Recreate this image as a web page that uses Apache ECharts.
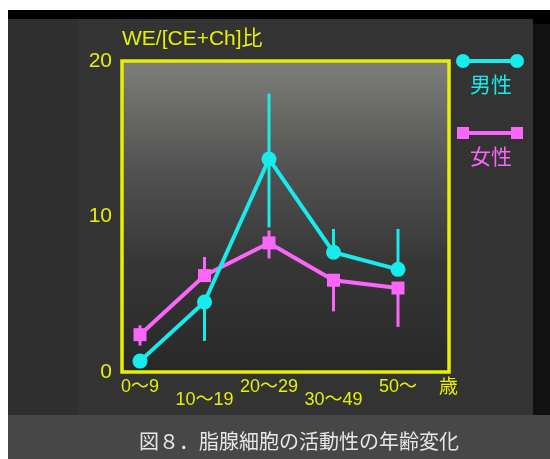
<!doctype html>
<html>
<head>
<meta charset="UTF-8">
<title>図8 脂腺細胞の活動性の年齢変化</title>
<script src="https://cdn.jsdelivr.net/npm/echarts@6/dist/echarts.min.js"></script>
<style>
  html, body { margin: 0; padding: 0; background: #fff; }
  .bg { position: absolute; }
  #main { position: absolute; left: 0; top: 0; width: 550px; height: 459px; }
</style>
</head>
<body>
<!-- 背景のパネル -->
<div class="bg" style="left:8px;top:10px;width:542px;height:449px;background:#333;"></div>
<div class="bg" style="left:8px;top:10px;width:525px;height:9px;background:#000;"></div>
<div class="bg" style="left:533px;top:10px;width:17px;height:405px;background:#111;"></div>
<div class="bg" style="left:533px;top:10px;width:17px;height:14px;background:#000;"></div>
<div class="bg" style="left:8px;top:19px;width:70px;height:396px;background:#2f2f2f;"></div>
<div class="bg" style="left:8px;top:415px;width:542px;height:44px;background:#474747;"></div>
<div id="main"></div>
<script type="text/javascript">
// 年齢区分
var ageGroups = ['0〜9', '10〜19', '20〜29', '30〜49', '50〜'];
// WE/[CE+Ch]比
var maleValues = [0.7, 4.5, 13.7, 7.7, 6.6];
var maleErrUp = [0, 0, 4.2, 1.5, 2.6];
var maleErrDown = [0, 2.5, 4.4, 0, 0];
var femaleValues = [2.4, 6.2, 8.3, 5.9, 5.4];
var femaleErrUp = [0.6, 1.2, 0.8, 0, 0];
var femaleErrDown = [0.7, 0, 1.0, 2.0, 2.5];
var yTicks = [0, 10, 20];

var yellow = '#e6f000';
var cyan = '#17ebeb';
var pink = '#fa66f8';
var font = "'Liberation Sans', 'Noto Sans CJK JP', sans-serif";

function errData(vals, up, down) {
    var out = [];
    for (var i = 0; i < vals.length; i++) {
        out.push([i, vals[i] - down[i], vals[i] + up[i]]);
    }
    return out;
}

function renderErr(params, api) {
    var lo = api.value(1), hi = api.value(2);
    if (lo === hi) return;
    var p1 = api.coord([api.value(0), lo]);
    var p2 = api.coord([api.value(0), hi]);
    return {
        type: 'line',
        shape: { x1: p1[0], y1: p1[1], x2: p2[0], y2: p2[1] },
        style: { stroke: api.visual('color'), lineWidth: 3 }
    };
}

var myChart = echarts.init(document.getElementById('main'), null, { renderer: 'canvas' });

var option = {
    backgroundColor: 'transparent',
    animation: false,
    title: {
        text: '図８．脂腺細胞の活動性の年齢変化',
        left: 134,
        top: 426,
        textStyle: { color: '#e6e6e6', fontSize: 20, fontWeight: 'normal', fontFamily: "'Noto Sans CJK JP', sans-serif" }
    },
    grid: [
        {   // 枠
            left: 122, top: 61, width: 327, height: 311,
            show: true,
            borderColor: yellow,
            borderWidth: 3.5,
            backgroundColor: {
                type: 'linear', x: 0, y: 0, x2: 0, y2: 1,
                colorStops: [
                    { offset: 0, color: '#7e7e7a' },
                    { offset: 0.35, color: '#525252' },
                    { offset: 0.65, color: '#363636' },
                    { offset: 1, color: '#282828' }
                ]
            }
        },
        {   // データ
            left: 140, top: 61, width: 258, height: 311
        }
    ],
    xAxis: [
        { gridIndex: 0, type: 'value', show: false },
        {
            gridIndex: 1,
            type: 'category',
            data: ageGroups,
            boundaryGap: false,
            axisLine: { show: false },
            axisTick: { show: false },
            splitLine: { show: false },
            axisLabel: {
                interval: 0,
                margin: 6,
                color: yellow,
                fontSize: 18,
                fontFamily: font,
                formatter: function (v, i) {
                    return i % 2 === 1 ? '{low|' + v + '}' : v;
                },
                rich: {
                    low: { color: yellow, fontSize: 18, fontFamily: font, padding: [13, 0, 0, 0] }
                }
            },
            name: '歳',
            nameLocation: 'end',
            nameGap: 41,
            nameTextStyle: { color: yellow, fontSize: 19, fontFamily: "'Noto Sans CJK JP', sans-serif", verticalAlign: 'top', padding: [4, 0, 0, 0] }
        }
    ],
    yAxis: [
        {
            gridIndex: 0,
            type: 'value',
            min: 0, max: 20,
            offset: 6,
            axisLine: { show: false },
            axisTick: { show: false },
            axisLabel: { show: false },
            splitLine: { show: false },
            name: 'WE/[CE+Ch]比',
            nameLocation: 'end',
            nameGap: 11,
            nameTextStyle: { color: yellow, fontSize: 21, fontFamily: font, align: 'left' }
        },
        {
            gridIndex: 1,
            type: 'value',
            min: 0, max: 20, interval: 10,
            axisLine: { show: false },
            axisTick: { show: false },
            splitLine: { show: false },
            axisLabel: {
                margin: 28,
                color: yellow,
                fontSize: 21,
                fontFamily: font,
                formatter: function (v) { return yTicks.indexOf(v) >= 0 ? String(v) : ''; }
            }
        }
    ],
    graphic: [
        { type: 'line', shape: { x1: 463, y1: 61, x2: 517, y2: 61 }, style: { stroke: cyan, lineWidth: 4 } },
        { type: 'circle', shape: { cx: 463, cy: 61, r: 7 }, style: { fill: cyan } },
        { type: 'circle', shape: { cx: 517, cy: 61, r: 7 }, style: { fill: cyan } },
        { type: 'text', left: 470, top: 74, style: { text: '男性', fill: cyan, fontSize: 21, fontFamily: "'Noto Sans CJK JP', sans-serif" } },
        { type: 'line', shape: { x1: 463, y1: 133, x2: 517, y2: 133 }, style: { stroke: pink, lineWidth: 4 } },
        { type: 'rect', shape: { x: 457, y: 127, width: 12, height: 12 }, style: { fill: pink } },
        { type: 'rect', shape: { x: 511, y: 127, width: 12, height: 12 }, style: { fill: pink } },
        { type: 'text', left: 470, top: 146, style: { text: '女性', fill: pink, fontSize: 21, fontFamily: "'Noto Sans CJK JP', sans-serif" } }
    ],
    series: [
        {
            name: '女性',
            type: 'line',
            xAxisIndex: 1, yAxisIndex: 1,
            data: femaleValues,
            color: pink,
            symbol: 'rect',
            symbolSize: 13,
            lineStyle: { width: 4, color: pink },
            itemStyle: { color: pink },
            z: 2
        },
        {
            name: '女性誤差',
            type: 'custom',
            xAxisIndex: 1, yAxisIndex: 1,
            data: errData(femaleValues, femaleErrUp, femaleErrDown),
            encode: { x: 0, y: [1, 2] },
            itemStyle: { color: pink },
            renderItem: renderErr,
            z: 2
        },
        {
            name: '男性',
            type: 'line',
            xAxisIndex: 1, yAxisIndex: 1,
            data: maleValues,
            color: cyan,
            symbol: 'circle',
            symbolSize: 15,
            lineStyle: { width: 4, color: cyan },
            itemStyle: { color: cyan },
            z: 3
        },
        {
            name: '男性誤差',
            type: 'custom',
            xAxisIndex: 1, yAxisIndex: 1,
            data: errData(maleValues, maleErrUp, maleErrDown),
            encode: { x: 0, y: [1, 2] },
            itemStyle: { color: cyan },
            renderItem: renderErr,
            z: 3
        }
    ]
};
myChart.setOption(option);
</script>
</body>
</html>
